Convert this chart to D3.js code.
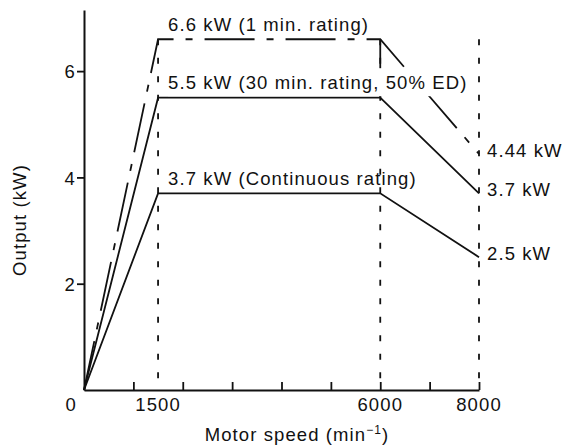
<!DOCTYPE html>
<html>
<head>
<meta charset="utf-8">
<script src="https://cdn.jsdelivr.net/npm/d3@7"></script>
<style>
  body { margin: 0; background: #fff; }
  text { font-family: "Liberation Sans", Arial, Helvetica, sans-serif; fill: #111; letter-spacing: 1.1px; }
</style>
</head>
<body>
<script>
// rating curves: motor speed (min-1) vs output (kW)
var speeds = [0, 1500, 6000, 8000];
var continuous = [0, 3.7, 3.7, 2.5];
var thirtyMin = [0, 5.5, 5.5, 3.7];
var oneMin = [0, 6.6, 6.6, 4.44];

var curveLabels = ["3.7 kW (Continuous rating)", "5.5 kW (30 min. rating, 50% ED)", "6.6 kW (1 min. rating)"];
var endLabels = ["2.5 kW", "3.7 kW", "4.44 kW"];
var xTickValues = [1000, 2000, 3000, 4000, 5000, 6000, 7000, 8000];
var xTickLabels = [1500, 6000, 8000];
var yTickLabels = [2, 4, 6];
var guideSpeeds = [1500, 6000, 8000];

var W = 565, H = 448;

var svg = d3.select("body").append("svg")
  .attr("width", W).attr("height", H);

var x = d3.scaleLinear().domain([0, 8000]).range([84, 479]);
var y = d3.scaleLinear().domain([0, 7.15]).range([390, 10]);

var line = d3.line()
  .x(function(d) { return x(d[0]); })
  .y(function(d) { return y(d[1]); });

// dashed guide lines from top curve down to axis
guideSpeeds.forEach(function(s) {
  svg.append("line")
    .attr("x1", x(s)).attr("x2", x(s))
    .attr("y1", y(6.6)).attr("y2", y(0))
    .attr("stroke", "#111").attr("stroke-width", 1.8)
    .attr("stroke-dasharray", "6,12.5");
});
// solid bit at 6000 between the top two curves
svg.append("line")
  .attr("x1", x(6000)).attr("x2", x(6000))
  .attr("y1", y(6.6)).attr("y2", y(5.5))
  .attr("stroke", "#111").attr("stroke-width", 1.8);

var series = [
  {vals: continuous, dash: null},
  {vals: thirtyMin, dash: null},
  {vals: oneMin, dash: "50,12,7,12"}
];

series.forEach(function(s) {
  var pts = speeds.map(function(v, i) { return [v, s.vals[i]]; });
  svg.append("path")
    .attr("d", line(pts))
    .attr("fill", "none")
    .attr("stroke", "#111")
    .attr("stroke-width", 1.8)
    .attr("stroke-dasharray", s.dash);
});

// axes
var xAxis = svg.append("g")
  .attr("transform", "translate(0," + y(0) + ")")
  .call(d3.axisBottom(x).tickValues(xTickValues).tickSize(-8).tickSizeOuter(0).tickFormat(""));
var yAxis = svg.append("g")
  .attr("transform", "translate(" + x(0) + ",0)")
  .call(d3.axisLeft(y).tickValues(yTickLabels).tickSize(7).tickSizeOuter(0).tickPadding(1));

svg.selectAll(".domain").attr("stroke", "#111").attr("stroke-width", 2);
svg.selectAll(".tick line").attr("stroke", "#111").attr("stroke-width", 1.8);
yAxis.selectAll("text").style("font-size", "18.5px").attr("fill", "#111").attr("dy", "0.36em");

// x tick labels
svg.selectAll(".xlab").data(xTickLabels).enter().append("text")
  .attr("x", function(d) { return x(d); })
  .attr("y", 411)
  .attr("text-anchor", "middle")
  .style("font-size", "18.5px")
  .text(function(d) { return d; });

svg.append("text")
  .attr("x", x(0) - 7).attr("y", 411)
  .attr("text-anchor", "end")
  .style("font-size", "18.5px")
  .text("0");

// curve labels above the flat sections
var labelVals = [3.7, 5.5, 6.6];
labelVals.forEach(function(v, i) {
  var t = svg.append("text")
    .attr("x", x(1500) + 10)
    .attr("y", y(v) - 8.5)
    .style("font-size", "18.5px")
    .text(curveLabels[i]);
  if (v == 5.5) {
    // white box behind this one hides the lines it crosses
    var b = t.node().getBBox();
    svg.insert("rect", function() { return t.node(); })
      .attr("x", b.x).attr("y", b.y - 4)
      .attr("width", b.width + 6).attr("height", b.height + 7)
      .attr("fill", "#fff");
  }
});

// end labels at 8000
var endVals = [2.5, 3.7, 4.44];
endVals.forEach(function(v, i) {
  svg.append("text")
    .attr("x", x(8000) + 8)
    .attr("y", y(v) + 3)
    .style("font-size", "18.5px")
    .text(endLabels[i]);
});

// axis titles
var xt = svg.append("text")
  .attr("x", 297).attr("y", 441)
  .attr("text-anchor", "middle")
  .style("font-size", "18.5px");
xt.append("tspan").text("Motor speed (min");
xt.append("tspan").attr("dy", -7).style("font-size", "12px").text("\u22121");
xt.append("tspan").attr("dy", 7).text(")");

svg.append("text")
  .attr("transform", "translate(26,220) rotate(-90)")
  .attr("text-anchor", "middle")
  .style("font-size", "18.5px")
  .text("Output (kW)");
</script>
</body>
</html>
